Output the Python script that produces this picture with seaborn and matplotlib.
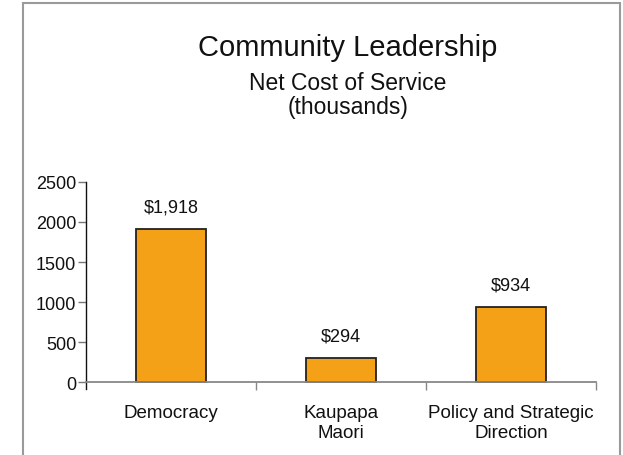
import matplotlib
matplotlib.use("Agg")
import matplotlib.pyplot as plt
from matplotlib.patches import Rectangle
from matplotlib.ticker import FixedLocator
import seaborn as sns
import pandas as pd

categories = ["Democracy", "Kaupapa\nMaori", "Policy and Strategic\nDirection"]
net_cost = [1918, 294, 934]
value_labels = ["$1,918", "$294", "$934"]
y_ticks = [0, 500, 1000, 1500, 2000, 2500]

sns.set_theme(style="white")
plt.rcParams["font.family"] = ["Liberation Sans", "DejaVu Sans"]

df = pd.DataFrame({"service": categories, "cost": net_cost})

fig = plt.figure(figsize=(6.23, 4.56), dpi=100)
ax = fig.add_axes([0.138, 0.1447, 0.8187, 0.454])

sns.barplot(data=df, x="service", y="cost", color="#F4A118", saturation=1,
            width=0.41, edgecolor="#222222", linewidth=1.3, ax=ax)

ax.set_xlim(-0.5, 2.5)
ax.set_ylim(-87.5, 2500)
ax.set_yticks(y_ticks)
ax.set_xticks(range(len(categories)), categories, linespacing=1.25)
ax.set_xlabel("")
ax.set_ylabel("")

for i, (v, lab) in enumerate(zip(net_cost, value_labels)):
    ax.annotate(lab, (i, v), xytext=(0, 22), textcoords="offset pixels",
                ha="center", va="center", fontsize=13, color="#111111")

for s in ("top", "right"):
    ax.spines[s].set_visible(False)
ax.spines["bottom"].set_position(("data", 0))
ax.spines["bottom"].set_color("#888888")
ax.spines["bottom"].set_linewidth(1.3)
ax.spines["left"].set_color("#111111")
ax.spines["left"].set_linewidth(1.0)
ax.spines["left"].set_bounds(-87.5, 2500)

ax.tick_params(axis="y", which="major", left=True, length=6, width=1.0,
               color="#777777", labelsize=13, pad=1, labelcolor="#111111")
ax.tick_params(axis="x", which="major", bottom=False, length=0, pad=16,
               labelsize=13.5, labelcolor="#111111")
ax.xaxis.set_minor_locator(FixedLocator([0.5, 1.5, 2.5]))
ax.tick_params(axis="x", which="minor", bottom=True, length=6, width=1.0,
               color="#888888", direction="out")

fig.text(0.5586, 0.895, "Community Leadership", ha="center", va="center",
         fontsize=21, color="#111111")
fig.text(0.5586, 0.8158, "Net Cost of Service", ha="center", va="center",
         fontsize=16.5, color="#111111")
fig.text(0.5586, 0.7632, "(thousands)", ha="center", va="center",
         fontsize=16.5, color="#111111")

fig.patches.append(Rectangle((0.0377, -0.05), 0.9575, 1.0412,
                             transform=fig.transFigure, fill=False,
                             edgecolor="#9a9a9a", linewidth=1.5))

fig.savefig("out.png", dpi=100, facecolor="white")
